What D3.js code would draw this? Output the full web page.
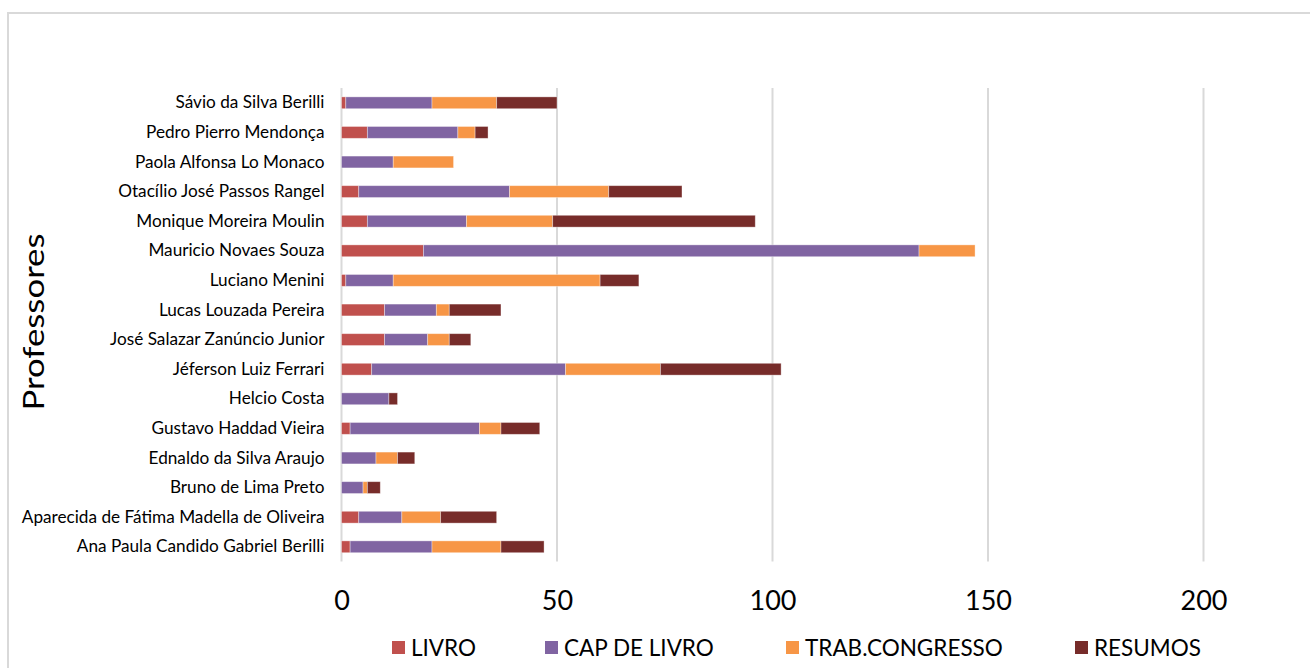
<!DOCTYPE html>
<html>
<head>
<meta charset="utf-8">
<script src="https://cdn.jsdelivr.net/npm/d3@7"></script>
<style>
  html, body { margin: 0; padding: 0; background: #fff; }
  svg { display: block; font-family: "Lato", "Open Sans", sans-serif; }
</style>
</head>
<body>
<svg id="chart" width="1310" height="668"></svg>
<script>
// Professors, listed top to bottom
const professors = [
  "Sávio da Silva Berilli",
  "Pedro Pierro Mendonça",
  "Paola Alfonsa Lo Monaco",
  "Otacílio José Passos Rangel",
  "Monique Moreira Moulin",
  "Mauricio Novaes Souza",
  "Luciano Menini",
  "Lucas Louzada Pereira",
  "José Salazar Zanúncio Junior",
  "Jéferson Luiz Ferrari",
  "Helcio Costa",
  "Gustavo Haddad Vieira",
  "Ednaldo da Silva Araujo",
  "Bruno de Lima Preto",
  "Aparecida de Fátima Madella de Oliveira",
  "Ana Paula Candido Gabriel Berilli"
];

// Publications per category, same order as professors
const livro          = [1, 6, 0, 4, 6, 19, 1, 10, 10, 7, 0, 2, 0, 0, 4, 2];
const capDeLivro     = [20, 21, 12, 35, 23, 115, 11, 12, 10, 45, 11, 30, 8, 5, 10, 19];
const trabCongresso  = [15, 4, 14, 23, 20, 13, 48, 3, 5, 22, 0, 5, 5, 1, 9, 16];
const resumos        = [14, 3, 0, 17, 47, 0, 9, 12, 5, 28, 2, 9, 4, 3, 13, 10];

const seriesNames = ["LIVRO", "CAP DE LIVRO", "TRAB.CONGRESSO", "RESUMOS"];
const seriesColors = ["#C0504D", "#8064A2", "#F79646", "#772C2A"];
const xTicks = [0, 50, 100, 150, 200];

const seriesValues = [livro, capDeLivro, trabCongresso, resumos];
const rows = professors.map((name, i) => {
  const r = { name };
  seriesNames.forEach((s, j) => { r[s] = seriesValues[j][i]; });
  return r;
});

const svg = d3.select("#chart");
const W = 1310, H = 668;

// outer frame
svg.append("rect")
  .attr("x", 8).attr("y", 13)
  .attr("width", W + 10).attr("height", H + 10)
  .attr("fill", "none").attr("stroke", "#d9d9d9").attr("stroke-width", 2);

const plot = { left: 341.5, right: 1203.5, top: 88, bottom: 561.6 };

const x = d3.scaleLinear().domain([0, 200]).range([plot.left, plot.right]);
const y = d3.scaleBand().domain(professors).range([plot.top, plot.bottom]).paddingInner(0.6).paddingOuter(0.3);

// vertical gridlines
svg.append("g")
  .selectAll("line")
  .data(xTicks)
  .join("line")
  .attr("x1", d => x(d)).attr("x2", d => x(d))
  .attr("y1", plot.top).attr("y2", plot.bottom)
  .attr("stroke", "#d9d9d9").attr("stroke-width", 2);

// stacked bars
const stack = d3.stack().keys(seriesNames)(rows);
svg.append("g")
  .selectAll("g")
  .data(stack)
  .join("g")
  .attr("fill", (d, i) => seriesColors[i])
  .selectAll("rect")
  .data(d => d.filter(p => p[1] > p[0]))
  .join("rect")
  .attr("x", d => x(d[0]))
  .attr("width", d => x(d[1]) - x(d[0]))
  .attr("y", d => y(d.data.name))
  .attr("height", y.bandwidth())
  .attr("stroke", "rgba(255,255,255,0.45)")
  .attr("stroke-width", 0.8);

// category labels
const yAxis = d3.axisLeft(y).tickSize(0).tickPadding(17);
const yg = svg.append("g").attr("transform", `translate(${plot.left},0)`).call(yAxis);
yg.select(".domain").remove();
yg.selectAll("text")
  .attr("fill", "#000")
  .style("font-family", "Lato, 'Open Sans', sans-serif")
  .style("font-size", "17.2px");

// value axis labels
const xAxis = d3.axisBottom(x).tickValues(xTicks).tickSize(0).tickPadding(0);
const xg = svg.append("g").attr("transform", `translate(0,${plot.bottom + 40})`).call(xAxis);
xg.select(".domain").remove();
xg.selectAll("text")
  .attr("fill", "#000")
  .attr("dy", "0.32em")
  .attr("y", 0)
  .style("font-family", "Lato, 'Open Sans', sans-serif")
  .style("font-size", "27px");

// axis title
svg.append("text")
  .attr("transform", "translate(44,322) rotate(-90)")
  .attr("text-anchor", "middle")
  .attr("fill", "#000")
  .attr("textLength", 177)
  .attr("lengthAdjust", "spacingAndGlyphs")
  .style("font-size", "29px")
  .text("Professores");

// legend
const legendX = [392, 545, 786, 1075];
const legend = svg.append("g");
seriesNames.forEach((s, i) => {
  const g = legend.append("g").attr("transform", `translate(${legendX[i]},641)`);
  g.append("rect").attr("x", 0).attr("y", 0).attr("width", 13).attr("height", 13).attr("fill", seriesColors[i]);
  g.append("text").attr("x", 19).attr("y", 6.5).attr("dy", "0.36em")
    .attr("fill", "#000").style("font-size", "22.5px").text(s);
});
</script>
</body>
</html>
